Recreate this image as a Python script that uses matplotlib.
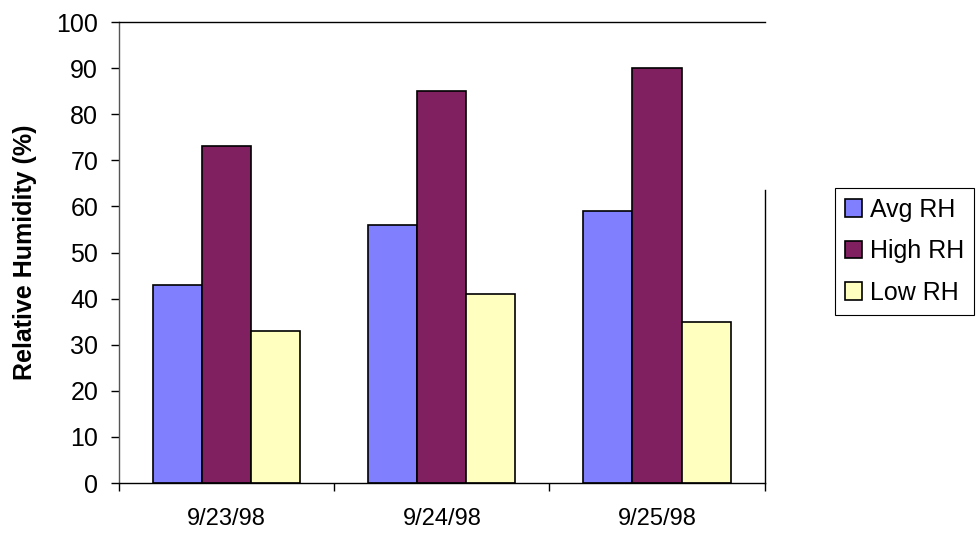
import matplotlib
matplotlib.use('Agg')
import matplotlib.pyplot as plt
import numpy as np

# ── Data ────────────────────────────────────────────────────────────
dates = ["9/23/98", "9/24/98", "9/25/98"]
avg_rh = [43, 56, 59]
high_rh = [73, 85, 90]
low_rh = [33, 41, 35]

series = [("Avg RH", avg_rh, "#8080FF"),
          ("High RH", high_rh, "#802060"),
          ("Low RH", low_rh, "#FFFFC0")]

plt.rcParams['font.family'] = ['Liberation Sans', 'DejaVu Sans']

fig = plt.figure(figsize=(9.79, 5.33), dpi=100)
ax = fig.add_axes([0.1216, 0.0938, 0.6594, 0.8649])

x = np.arange(len(dates))
width = 0.228
for i, (name, vals, color) in enumerate(series):
    ax.bar(x + (i - 1) * width, vals, width, color=color,
           edgecolor='black', linewidth=1.2, label=name, zorder=2)

# ── Axes ────────────────────────────────────────────────────────────
ax.set_xlim(-0.5, 2.5)
ax.set_ylim(0, 100)
ax.set_yticks(np.arange(0, 101, 10))
ax.set_xticks(x)
ax.set_xticklabels(dates)
ax.set_xticks([-0.5, 0.5, 1.5, 2.5], minor=True)
ax.tick_params(axis='x', which='major', length=0, pad=18, labelsize=17)
ax.tick_params(axis='x', which='minor', length=6, direction='out', width=1)
ax.tick_params(axis='y', length=6, direction='out', width=1, labelsize=18, pad=9)

for s in ax.spines.values():
    s.set_linewidth(1)
    s.set_color('black')
ax.spines['left'].set_color('#555555')
ax.spines['right'].set_bounds(0, 63.6)

ax.set_ylabel('Relative Humidity (%)', fontsize=18, fontweight='bold', labelpad=14)

leg = ax.legend(loc='upper left', bbox_to_anchor=(1.109, 0.64), fontsize=18,
                frameon=True, fancybox=False, edgecolor='black', framealpha=1,
                handlelength=0.7, handleheight=0.7, handletextpad=0.3,
                borderpad=0.4, labelspacing=0.7, borderaxespad=0)
leg.get_frame().set_linewidth(0.8)

fig.savefig('out.png', dpi=100)
